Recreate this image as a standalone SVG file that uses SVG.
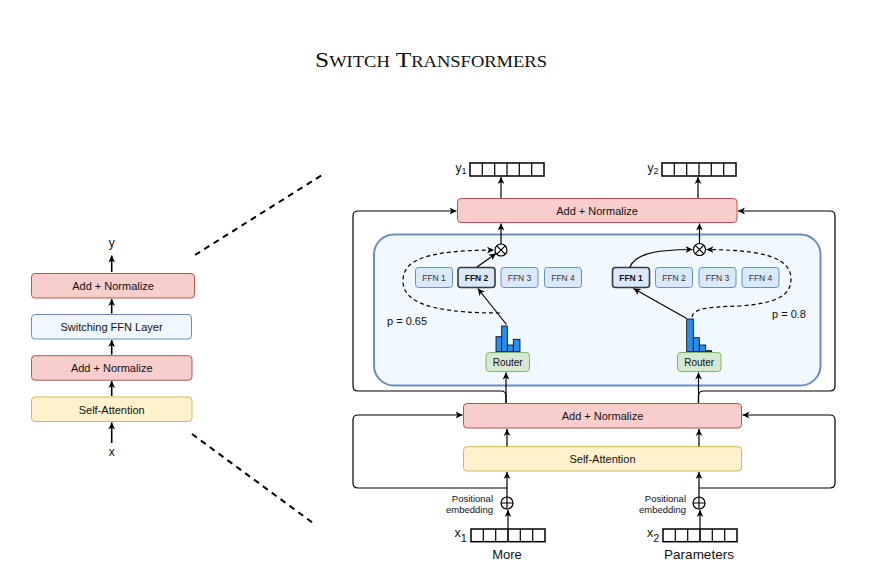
<svg xmlns="http://www.w3.org/2000/svg" width="881" height="576" viewBox="0 0 881 576">
<defs>
<marker id="ar" markerWidth="8" markerHeight="8" refX="7" refY="4" orient="auto" markerUnits="userSpaceOnUse">
<path d="M0,0.6 L7,4 L0,7.4 L2,4 z" fill="#000"/>
</marker>
<style>
text{font-family:"Liberation Sans",Arial,sans-serif;fill:#111;}
.c{text-anchor:middle;}
.t11{font-size:11px;}
.t10{font-size:10px;}
.ffn{font-size:8.5px;fill:#333;}
.b{font-weight:bold;fill:#111;}
.an{fill:#f8cecc;stroke:#b85450;stroke-width:1;}
.sa{fill:#fff2cc;stroke:#d6b656;stroke-width:1;}
.sw{fill:#f0f8ff;stroke:#6c8ebf;stroke-width:1;}
.fb{fill:#dae8fc;stroke:#6c8ebf;stroke-width:1;}
.fs{fill:#dae8fc;stroke:#36393d;stroke-width:1.6;}
.rt{fill:#d5e8d4;stroke:#82b366;stroke-width:1;}
.ln{fill:none;stroke:#000;stroke-width:1.2;}
.arw{fill:none;stroke:#000;stroke-width:1.2;marker-end:url(#ar);}
.arl{fill:none;stroke:#000;stroke-width:1.6;marker-end:url(#ar);}
.dsh{fill:none;stroke:#000;stroke-width:1.2;stroke-dasharray:4 3;marker-end:url(#ar);}
.zoom{fill:none;stroke:#000;stroke-width:2;stroke-dasharray:6 5;}
.bar{fill:#2b8cf0;stroke:#000;stroke-width:0.8;}
.vec{fill:#fff;stroke:#000;stroke-width:1.5;}
.op{fill:#fff;stroke:#000;stroke-width:1.2;}
</style>
</defs>

<text x="315" y="67" textLength="232" lengthAdjust="spacingAndGlyphs" style="font-family:'Liberation Serif','Times New Roman',serif;font-size:22px;fill:#111;">S<tspan style="font-size:16px">WITCH</tspan> T<tspan style="font-size:16px">RANSFORMERS</tspan></text>

<!-- left stack -->
<g id="left-stack">
<text x="111.7" y="247" class="c" style="font-size:12px">y</text>
<g id="l-addnorm2"><rect x="31.5" y="273.5" width="163" height="24.5" rx="3.5" class="an"/><text x="113" y="290" class="c t11">Add + Normalize</text></g>
<g id="l-switch"><rect x="31.5" y="314.5" width="160" height="24.5" rx="3.5" class="sw"/><text x="111.5" y="331" class="c t11">Switching FFN Layer</text></g>
<g id="l-addnorm1"><rect x="31.5" y="355.7" width="160.5" height="24.5" rx="3.5" class="an"/><text x="111.7" y="372" class="c t11">Add + Normalize</text></g>
<g id="l-selfatt"><rect x="31.5" y="397" width="160.5" height="24.5" rx="3.5" class="sa"/><text x="111.7" y="413.5" class="c t11">Self-Attention</text></g>
<text x="111.7" y="456" class="c" style="font-size:12px">x</text>
</g>
<g id="left-connectors">
<line x1="111.7" y1="272" x2="111.7" y2="255.5" class="arl"/>
<line x1="111.7" y1="313.5" x2="111.7" y2="299" class="arl"/>
<line x1="111.7" y1="354.7" x2="111.7" y2="340" class="arl"/>
<line x1="111.7" y1="396" x2="111.7" y2="381" class="arl"/>
<line x1="111.7" y1="443" x2="111.7" y2="422.5" class="arl"/>
</g>

<g id="zoom-lines">
<line x1="195" y1="255" x2="322" y2="175" class="zoom"/>
<line x1="192" y1="434" x2="313" y2="523" class="zoom"/>
</g>

<!-- right detail -->
<g id="y1">
<text x="455.5" y="172" style="font-size:12px">y<tspan style="font-size:9px" dy="2">1</tspan></text>
<rect x="470" y="163" width="74" height="13" class="vec"/>
<path d="M482.3,163V176M494.7,163V176M507,163V176M519.3,163V176M531.7,163V176" class="ln" stroke-width="1.5"/>
</g>
<g id="y2">
<text x="647.5" y="172" style="font-size:12px">y<tspan style="font-size:9px" dy="2">2</tspan></text>
<rect x="662" y="163" width="74" height="13" class="vec"/>
<path d="M674.3,163V176M686.7,163V176M699,163V176M711.3,163V176M723.7,163V176" class="ln" stroke-width="1.5"/>
</g>

<g id="r-addnorm2"><rect x="457.5" y="198.5" width="279.5" height="24" rx="3.5" class="an"/><text x="597" y="214.5" class="c t11">Add + Normalize</text></g>

<g id="moe-container"><rect x="374" y="234.5" width="446.5" height="151" rx="20" fill="#f1f9ff" stroke="#6c8ebf" stroke-width="2"/></g>

<g id="ffn-left">
<rect x="415.5" y="267.5" width="37" height="20" rx="3" class="fb"/><text x="434" y="281" class="c ffn">FFN 1</text>
<rect x="458" y="267.5" width="37" height="20" rx="3" class="fs"/><text x="476.5" y="281" class="c ffn b">FFN 2</text>
<rect x="501" y="267.5" width="37" height="20" rx="3" class="fb"/><text x="519.5" y="281" class="c ffn">FFN 3</text>
<rect x="544.5" y="267.5" width="37" height="20" rx="3" class="fb"/><text x="563" y="281" class="c ffn">FFN 4</text>
</g>
<g id="ffn-right">
<rect x="612.5" y="267.5" width="37" height="20" rx="3" class="fs"/><text x="631" y="281" class="c ffn b">FFN 1</text>
<rect x="655.5" y="267.5" width="37" height="20" rx="3" class="fb"/><text x="674" y="281" class="c ffn">FFN 2</text>
<rect x="699" y="267.5" width="37" height="20" rx="3" class="fb"/><text x="717.5" y="281" class="c ffn">FFN 3</text>
<rect x="742" y="267.5" width="37" height="20" rx="3" class="fb"/><text x="760.5" y="281" class="c ffn">FFN 4</text>
</g>

<g id="mul-left"><circle cx="501" cy="250" r="6" class="op"/><path d="M496.8,245.8L505.2,254.2M505.2,245.8L496.8,254.2" class="ln"/></g>
<g id="mul-right"><circle cx="699.5" cy="249.5" r="6" class="op"/><path d="M695.3,245.3L703.7,253.7M703.7,245.3L695.3,253.7" class="ln"/></g>

<g id="hist-left">
<rect x="496" y="336.7" width="5.7" height="15" class="bar"/>
<rect x="501.7" y="326" width="5.6" height="25.7" class="bar"/>
<rect x="507.3" y="345" width="6" height="6.7" class="bar"/>
<rect x="513.3" y="339.3" width="6.7" height="12.4" class="bar"/>
</g>
<g id="hist-right">
<rect x="686.7" y="319" width="6.6" height="32.7" class="bar"/>
<rect x="693.3" y="337.7" width="6" height="14" class="bar"/>
<rect x="699.3" y="345" width="6.4" height="6.7" class="bar"/>
<rect x="705.7" y="350.7" width="6" height="1" class="bar"/>
</g>

<g id="router-left"><rect x="486" y="352.5" width="43.5" height="19" rx="3.5" class="rt"/><text x="507.7" y="365.5" class="c t10">Router</text></g>
<g id="router-right"><rect x="677.5" y="352.5" width="43.5" height="19" rx="3.5" class="rt"/><text x="699.2" y="365.5" class="c t10">Router</text></g>

<text x="387" y="325" class="t11">p = 0.65</text>
<text x="772" y="318" class="t11">p = 0.8</text>

<g id="r-addnorm1"><rect x="463.5" y="403.5" width="278" height="24.5" rx="3.5" class="an"/><text x="602.5" y="419.5" class="c t11">Add + Normalize</text></g>
<g id="r-selfatt"><rect x="463.5" y="446.7" width="278" height="24.3" rx="3.5" class="sa"/><text x="602.5" y="462.8" class="c t11">Self-Attention</text></g>

<g id="pos-left">
<circle cx="507" cy="503" r="6" class="op"/><path d="M501,503H513M507,497V509" class="ln"/>
<text x="493" y="502" style="font-size:9.5px" text-anchor="end">Positional</text>
<text x="493" y="513" style="font-size:9.5px" text-anchor="end">embedding</text>
</g>
<g id="pos-right">
<circle cx="699" cy="503" r="6" class="op"/><path d="M693,503H705M699,497V509" class="ln"/>
<text x="686" y="502" style="font-size:9.5px" text-anchor="end">Positional</text>
<text x="686" y="513" style="font-size:9.5px" text-anchor="end">embedding</text>
</g>

<g id="x1">
<text x="454.5" y="537" style="font-size:12.5px">x<tspan dy="4.5" style="font-size:11px">1</tspan></text>
<rect x="471" y="529" width="74" height="12.7" class="vec"/>
<path d="M483.3,529V541.7M495.7,529V541.7M508,529V541.7M520.3,529V541.7M532.7,529V541.7" class="ln" stroke-width="1.5"/>
<text x="507" y="559" class="c" style="font-size:13px">More</text>
</g>
<g id="x2">
<text x="647" y="537" style="font-size:12.5px">x<tspan dy="4.5" style="font-size:11px">2</tspan></text>
<rect x="663" y="529" width="74" height="12.7" class="vec"/>
<path d="M675.3,529V541.7M687.7,529V541.7M700,529V541.7M712.3,529V541.7M724.7,529V541.7" class="ln" stroke-width="1.5"/>
<text x="699" y="559" class="c" style="font-size:13.5px">Parameters</text>
</g>

<g id="connectors">
<line x1="501" y1="198" x2="501" y2="177" class="arw"/>
<line x1="698" y1="198" x2="698" y2="177" class="arw"/>
<line x1="501" y1="244" x2="501" y2="223.5" class="arw"/>
<line x1="699.5" y1="243.5" x2="699.5" y2="223.5" class="arw"/>
<path d="M506,403V396Q506,391 501,391H358Q353,391 353,386V216Q353,211 358,211H456.5" class="arw"/>
<path d="M698.5,403V396Q698.5,391 703.5,391H830Q835,391 835,386V216Q835,211 830,211H738" class="arw"/>
<line x1="506" y1="403" x2="506" y2="372.5" class="arw"/>
<line x1="698.5" y1="403" x2="698.5" y2="372.5" class="arw"/>
<line x1="506.5" y1="324.5" x2="477.8" y2="288.5" class="arw"/>
<line x1="477" y1="267" x2="496" y2="253.5" class="arw"/>
<path d="M500,313C430,313 403,302 403,281C403,260 425,250.5 494,250" class="dsh"/>
<line x1="686.7" y1="318.5" x2="633.5" y2="288.5" class="arw"/>
<path d="M630,267C634,256 650,249.5 692.5,249.5" class="arw"/>
<path d="M692,317C694,308 708,307 740,306C778,303 791,295 791,279C791,260 770,250 706.5,249.5" class="dsh"/>
<line x1="507" y1="446.5" x2="507" y2="429" class="arw"/>
<line x1="699" y1="446.5" x2="699" y2="429" class="arw"/>
<path d="M507,497V472" class="arw"/>
<path d="M699,497V472" class="arw"/>
<path d="M507,488H358Q353,488 353,483V420Q353,415 358,415H462.5" class="arw"/>
<path d="M699,488H830Q835,488 835,483V420Q835,415 830,415H742.5" class="arw"/>
<line x1="508" y1="541" x2="508" y2="510" class="arw"/>
<line x1="700" y1="541" x2="700" y2="510" class="arw"/>
</g>
</svg>
